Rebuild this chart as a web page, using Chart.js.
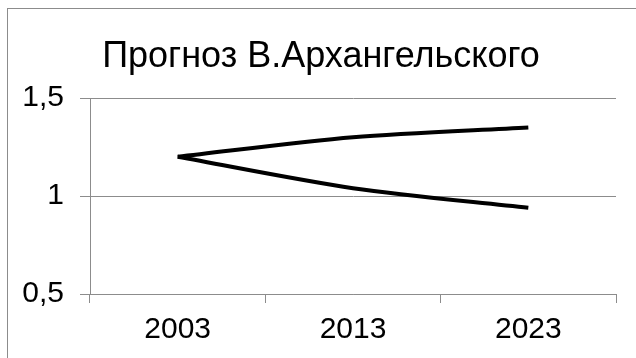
<!DOCTYPE html>
<html>
<head>
<meta charset="utf-8">
<script src="https://cdn.jsdelivr.net/npm/chart.js@4/dist/chart.umd.min.js"></script>
<style>
  html, body { margin: 0; padding: 0; background: #fff; }
  #wrap { position: relative; width: 636px; height: 358px; overflow: hidden; }
  #frame { position: absolute; left: 7px; top: 8px; width: 640px; height: 360px;
           border-left: 1px solid #8c8c8c; border-top: 1px solid #8c8c8c; box-sizing: border-box; }
  canvas { position: absolute; left: 0; top: 0; }
</style>
</head>
<body>
<div id="wrap">
  <div id="frame"></div>
  <canvas id="c" width="636" height="358"></canvas>
</div>
<script>
const title = 'Прогноз В.Архангельского';
const years = ['2003', '2013', '2023'];
const upperForecast = [1.2, 1.3, 1.35];
const lowerForecast = [1.2, 1.04, 0.94];
const yTicks = [0.5, 1, 1.5];
const yTickLabels = ['0,5', '1', '1,5'];

const FONT = "'Liberation Sans', Arial, sans-serif";
const GRID = '#8c8c8c';

// Title centred on the whole frame rather than on the plot area
const frameTitle = {
  id: 'frameTitle',
  afterDraw(chart) {
    const ctx = chart.ctx;
    ctx.save();
    ctx.fillStyle = '#000';
    ctx.font = '36px ' + FONT;
    ctx.textAlign = 'center';
    ctx.textBaseline = 'alphabetic';
    ctx.fillText(title, 321, 67);
    ctx.restore();
  }
};

new Chart(document.getElementById('c'), {
  type: 'line',
  data: {
    labels: years,
    datasets: [
      { data: upperForecast, borderColor: '#000', borderWidth: 4, pointRadius: 0, tension: 0.3, fill: false },
      { data: lowerForecast, borderColor: '#000', borderWidth: 4, pointRadius: 0, tension: 0.3, fill: false }
    ]
  },
  plugins: [frameTitle],
  options: {
    responsive: false,
    animation: false,
    events: [],
    layout: { padding: { left: 0, right: 20, top: 98, bottom: 0 } },
    plugins: {
      legend: { display: false },
      tooltip: { enabled: false },
      title: { display: false }
    },
    scales: {
      x: {
        offset: true,
        grid: { offset: true, drawOnChartArea: false, color: GRID, tickLength: 9, tickColor: GRID },
        border: { color: GRID, width: 1 },
        ticks: { color: '#000', font: { family: FONT, size: 30 }, padding: 9, maxRotation: 0 },
        afterFit: s => { s.height = 64; }
      },
      y: {
        min: 0.5,
        max: 1.5,
        afterBuildTicks: s => { s.ticks = yTicks.map(v => ({ value: v })); },
        grid: { color: GRID, tickLength: 10, tickColor: GRID },
        border: { color: GRID, width: 1 },
        ticks: {
          color: '#000',
          font: { family: FONT, size: 30 },
          padding: 16,
          callback: v => yTickLabels[yTicks.indexOf(v)]
        },
        afterFit: s => { s.width = 90; }
      }
    }
  }
});
</script>
</body>
</html>
